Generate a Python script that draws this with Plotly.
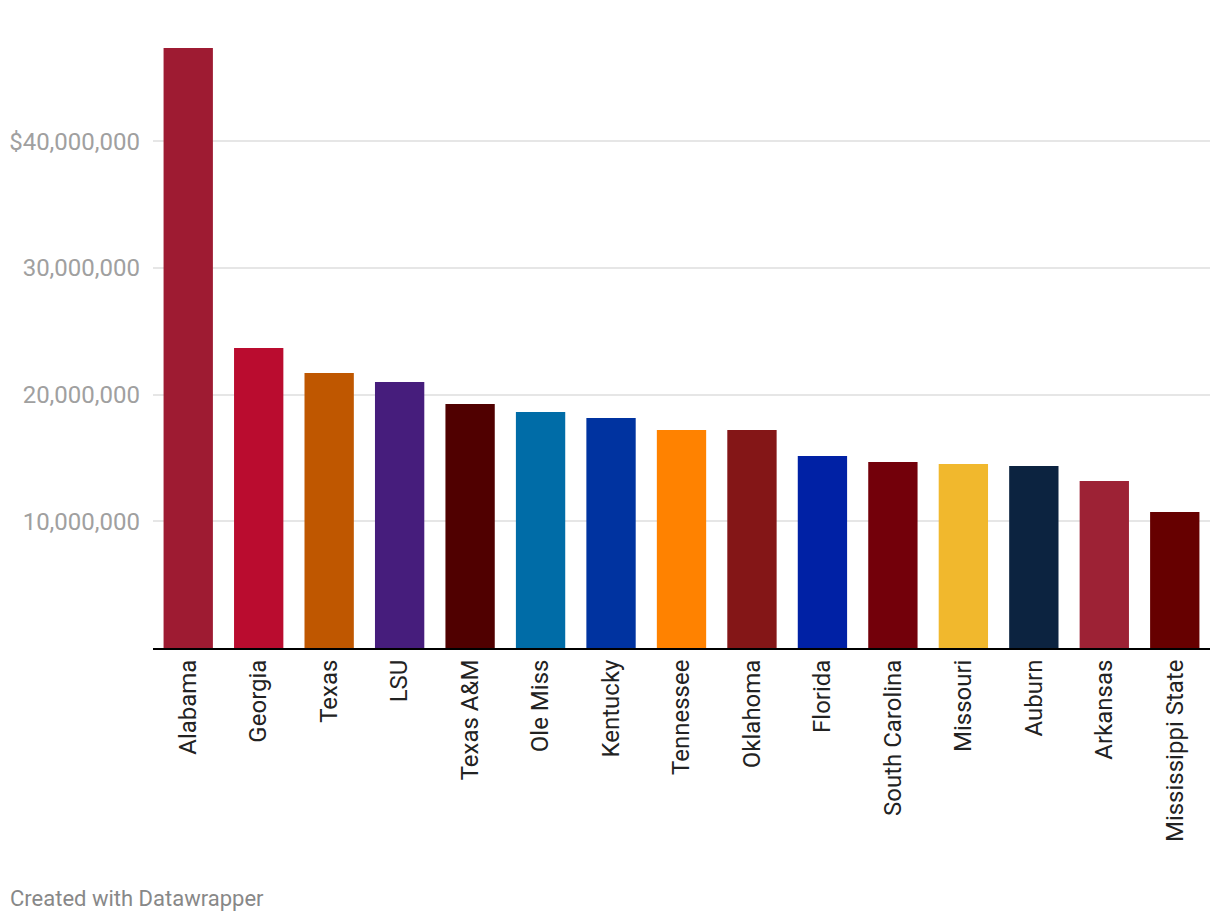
import plotly.graph_objects as go

schools = ["Alabama", "Georgia", "Texas", "LSU", "Texas A&M", "Ole Miss", "Kentucky",
           "Tennessee", "Oklahoma", "Florida", "South Carolina", "Missouri", "Auburn",
           "Arkansas", "Mississippi State"]
values = [47360000, 23680000, 21700000, 21000000, 19260000, 18630000, 18150000,
          17200000, 17200000, 15150000, 14680000, 14520000, 14360000, 13180000, 10730000]
colors = ["#9E1B32", "#BA0C2F", "#BF5700", "#461D7C", "#500000", "#006CA7", "#0033A0",
          "#FF8200", "#841617", "#0021A5", "#73000A", "#F1B82D", "#0C2340", "#9D2235", "#660000"]
tick_vals = [10000000, 20000000, 30000000, 40000000]
tick_text = ["10,000,000", "20,000,000", "30,000,000", "$40,000,000"]

W, H = 1212, 916
L, R, T, B = 145, 10, 40, 276
pw, ph = W - L - R, H - T - B

fig = go.Figure(go.Bar(x=schools, y=values, marker=dict(color=colors, line=dict(width=0)),
                       hoverinfo="x+y"))

fig.update_layout(
    width=W, height=H,
    margin=dict(l=L, r=R, t=T, b=B),
    paper_bgcolor="white", plot_bgcolor="white",
    bargap=0.3,
    showlegend=False,
    font=dict(family="Roboto", color="#333333"),
    xaxis=dict(tickangle=-90, tickfont=dict(size=24, color="#222222"), showgrid=False,
               showline=True, linecolor="#000000", linewidth=2, ticks="", ticklen=0,
               automargin=False),
    yaxis=dict(range=[0, 47360000], tickvals=tick_vals, ticktext=tick_text,
               tickfont=dict(size=24, color="#a0a0a0"), showgrid=True, gridcolor="#e6e6e6",
               gridwidth=1.5, zeroline=False, showline=False, ticks="", ticklabelstandoff=12,
               automargin=False),
)
fig.add_annotation(text="Created with Datawrapper", xref="paper", yref="paper",
                   x=-(L) / pw, y=-(890 - 640) / ph, xanchor="left", yanchor="middle",
                   showarrow=False, font=dict(size=22, color="#888888", family="Roboto"))
fig.write_html("out.html")
